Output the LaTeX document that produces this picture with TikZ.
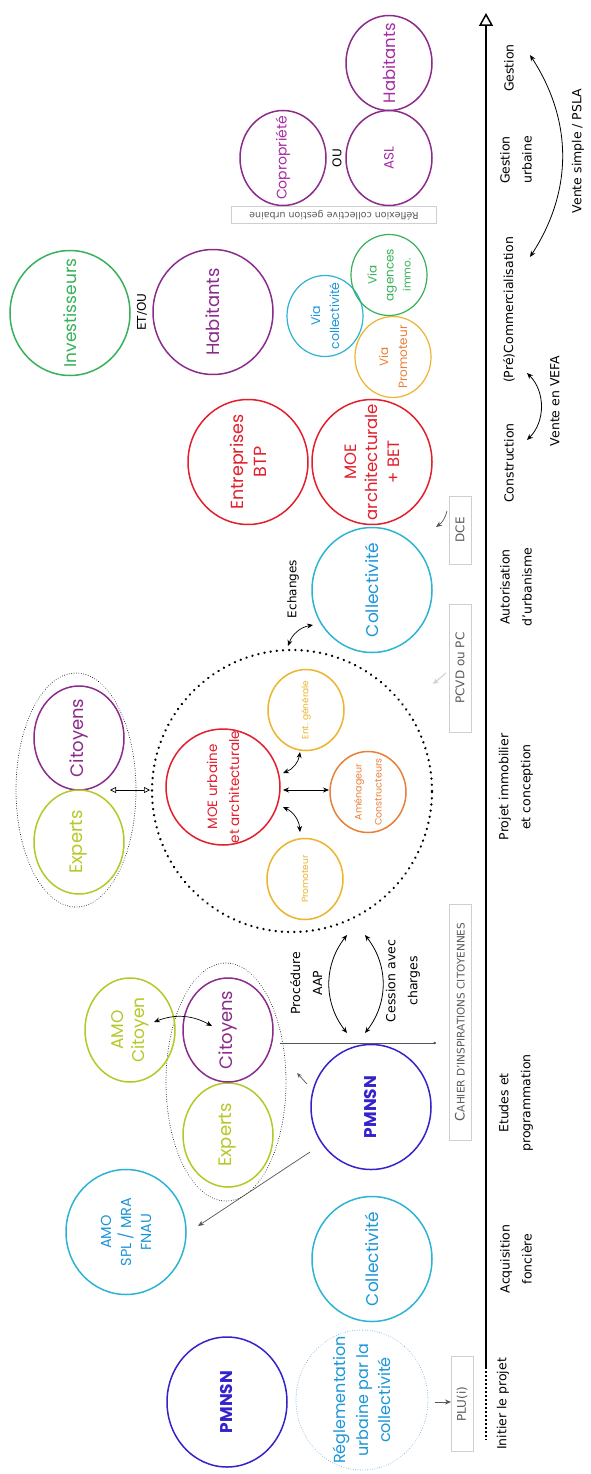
\documentclass[tikz,border=0pt]{standalone}
\usepackage{fontspec}
\setmainfont{DejaVu Sans}
\newfontfamily\circfont{Poppins}
\usetikzlibrary{shapes.geometric,arrows.meta}
\newcommand\setfs[2]{\fontsize{#1}{#2}\selectfont}
\definecolor{cIndigo}{HTML}{3422CC}
\definecolor{cCyan}{HTML}{2DB3D3}
\definecolor{cCyanT}{HTML}{1D96D8}
\definecolor{cLime}{HTML}{B6C827}
\definecolor{cPurple}{HTML}{8B2C8C}
\definecolor{cMagenta}{HTML}{A82AA6}
\definecolor{cRed}{HTML}{E11F2D}
\definecolor{cGold}{HTML}{EBB52E}
\definecolor{cOrange}{HTML}{E98038}
\definecolor{cGreen}{HTML}{37B159}
\definecolor{cLBlue}{HTML}{6AA8DA}
\definecolor{cBox}{HTML}{CFCFCF}
\definecolor{cBoxT}{HTML}{5A5A5A}
\definecolor{cArrow}{HTML}{555555}
\tikzset{
  ellbase/.style={ellipse, rotate=90, inner sep=0pt, line width=1.5pt},
  cL/.style={ellbase, minimum width=125pt, minimum height=120pt},
  cM/.style={ellbase, minimum width=104pt, minimum height=90pt},
  cS/.style={ellbase, minimum width=81pt, minimum height=76pt},
  cT/.style={ellbase, minimum width=95pt, minimum height=86pt},
  ct/.style={rotate=90, align=center, inner sep=0pt},
  lab/.style={rotate=90, align=center, inner sep=0pt, font=\setfs{12.5}{22}},
  gbox/.style={draw=cBox, line width=0.9pt, rotate=90, text=cBoxT, minimum height=22pt, inner sep=1pt, font=\setfs{12}{14}},
  thin/.style={draw=cArrow, line width=0.7pt},
  dotline/.style={line width=0.9pt, dash pattern=on 0.01pt off 2.4pt, line cap=round},
}
\begin{document}
\begin{tikzpicture}[x=1pt,y=-1pt, >={Stealth[length=6pt,width=5pt]}]
\useasboundingbox (0,0) rectangle (590,1474);
\fill[white] (0,0) rectangle (590,1474);

% ---------- axis
\coordinate (ax0) at (486,1367);
\coordinate (ax1) at (486,13);
\coordinate (axd) at (486,1440);
\draw[line width=2pt, -{Triangle[open,length=13pt,width=14pt,line width=1.5pt]}] (ax0) -- (ax1);
\draw[line width=2pt, dash pattern=on 1.5pt off 2.5pt] (ax0) -- (axd);

% ---------- timeline labels
\node[lab] (t1) at (503,1404) {Initier le projet};
\node[lab] (t2) at (516,1259) {Acquisition\\foncière};
\node[lab] (t3) at (516,1103) {Etudes et\\programmation};
\node[lab] (t4) at (516,787) {Projet immobilier\\et conception};
\node[lab] (t5) at (516,587) {Autorisation\\d'urbanisme};
\node[lab] (t6) at (509,463) {Construction};
\node[lab] (t7) at (509,310) {(Pré)Commercialisation};
\node[lab] (t8) at (516,160) {Gestion\\urbaine};
\node[lab] (t9) at (509,68) {Gestion};
\node[lab] (vefa) at (555,401) {Vente en VEFA};
\node[lab] (psla) at (578,151) {Vente simple / PSLA};
\coordinate (va) at (527,440);
\coordinate (vb) at (527,373);
\draw[<->, line width=0.8pt] (va) to[bend right=45] (vb);
\coordinate (pa) at (530,257);
\coordinate (pb) at (530,55);
\draw[<->, line width=0.8pt] (pa) to[bend right=33] (pb);

% ---------- bottom section
\node[ellbase, minimum width=130pt, minimum height=120pt, draw=cIndigo] (pm1) at (227,1402) {};
\node[ct, text=cIndigo, font=\circfont\setfs{17}{19}\bfseries] (pm1t) at (pm1) {PMNSN};
\node[ellbase, minimum width=140pt, minimum height=132pt, draw=cLBlue, dotline] (regl) at (362,1400) {};
\node[ct, text=cCyanT, font=\circfont\setfs{16}{22.5}] (reglt) at (regl) {Réglementation\\urbaine par la\\collectivité};
\node[gbox, minimum width=95pt] (plu) at (462,1404) {PLU(i)};
\coordinate (plua) at (435,1402);
\coordinate (plub) at (451,1402);
\draw[thin, ->] (plua) -- (plub);

\node[cL, draw=cCyan] (coll1) at (372,1259) {};
\node[ct, text=cCyanT, font=\circfont\setfs{17}{20}] (coll1t) at (coll1) {Collectivité};
\node[cL, draw=cCyan] (amo1) at (126,1232) {};
\node[ct, text=cCyanT, font=\circfont\setfs{14.5}{20}] (amo1t) at (amo1) {AMO\\SPL / MRA\\FNAU};

\node[cL, draw=cIndigo] (pm2) at (371,1107) {};
\node[ct, text=cIndigo, font=\circfont\setfs{17}{19}\bfseries] (pm2t) at (pm2) {PMNSN};
\node[cM, draw=cLime] (exp1) at (228,1135) {};
\node[ct, text=cLime, font=\circfont\setfs{18}{20}] (exp1t) at (exp1) {Experts};
\node[cM, draw=cPurple] (cit1) at (228,1030) {};
\node[ct, text=cPurple, font=\circfont\setfs{18}{20}] (cit1t) at (cit1) {Citoyens};
\node[ellipse, draw, dotline, minimum width=120pt, minimum height=238pt, inner sep=0pt] (dot1) at (226,1082) {};
\node[cM, draw=cLime] (amoc) at (130,1030) {};
\node[ct, text=cLime, font=\circfont\setfs{17}{21}] (amoct) at (amoc) {AMO\\Citoyen};

\coordinate (s1) at (310,1152);
\coordinate (s2) at (198,1226);
\draw[thin, ->] (s1) -- (s2);
\coordinate (s3) at (307,1084);
\coordinate (s4) at (297,1073);
\draw[thin, -{Stealth[open,length=5pt,width=4pt]}] (s3) -- (s4);
\coordinate (s5) at (154,1022);
\coordinate (s6) at (212,1026);
\draw[<->, line width=0.7pt] (s5) to[bend left=25] (s6);

\node[gbox, minimum width=236pt, font=\setfs{10.5}{12}] (cahier) at (460,1022) {{\setfs{13}{13}C}AHIER D'INSPIRATIONS CITOYENNES};
\coordinate (s7) at (280,1043);
\coordinate (s8) at (436,1043);
\draw[thin, -{Circle[length=2.5pt]}] (s7) -- (s8);

% Procédure / Cession arrows
\coordinate (pa1) at (347,1033);
\coordinate (pa2) at (347,935);
\draw[<->, line width=0.8pt] (pa1) to[bend left=38] (pa2);
\coordinate (pc1) at (365,1033);
\coordinate (pc2) at (365,935);
\draw[<->, line width=0.8pt] (pc1) to[bend right=38] (pc2);
\node[lab] (proc) at (306,983) {Procédure\\AAP};
\node[lab] (cess) at (403,981) {Cession avec\\charges};

% ---------- middle section
\node[ellipse, draw, line width=2.6pt, dash pattern=on 0.01pt off 6.2pt, line cap=round, minimum width=280pt, minimum height=282pt, inner sep=0pt] (bigc) at (292,791) {};
\node[ellbase, minimum width=116pt, minimum height=114pt, draw=cRed] (moe) at (223,787) {};
\node[ct, text=cRed, font=\circfont\setfs{13.5}{22}] (moet) at (moe) {MOE urbaine\\et architecturale};
\node[cS, draw=cGold] (prom) at (305,879) {};
\node[ct, text=cGold, font=\circfont\setfs{9}{11}] (promt) at (prom) {Promoteur};
\node[cS, draw=cOrange] (amen) at (368,792) {};
\node[ct, text=cOrange, font=\circfont\setfs{9.5}{20}] (ament) at (amen) {Aménageur\\Constructeurs};
\node[cS, draw=cGold] (entg) at (306,710) {};
\node[ct, text=cGold, font=\circfont\setfs{9}{11}] (entgt) at (entg) {Ent. générale};
\coordinate (m1) at (283,773);
\coordinate (m2) at (300,752);
\draw[<->, line width=0.7pt] (m1) to[bend right=30] (m2);
\coordinate (m3) at (283,790);
\coordinate (m4) at (329,790);
\draw[<->, line width=0.7pt] (m3) -- (m4);
\coordinate (m5) at (283,807);
\coordinate (m6) at (300,832);
\draw[<->, line width=0.7pt] (m5) to[bend left=30] (m6);

\node[cM, draw=cPurple] (cit2) at (79,738) {};
\node[ct, text=cPurple, font=\circfont\setfs{18}{20}] (cit2t) at (cit2) {Citoyens};
\node[cM, draw=cLime] (exp2) at (79,842) {};
\node[ct, text=cLime, font=\circfont\setfs{18}{20}] (exp2t) at (exp2) {Experts};
\node[ellipse, draw, dotline, minimum width=120pt, minimum height=234pt, inner sep=0pt] (dot2) at (76,790) {};
\coordinate (d1) at (110,790);
\coordinate (d2) at (150,790);
\draw[line width=0.7pt, {Triangle[open,length=6pt,width=6pt]}-{Triangle[open,length=6pt,width=6pt]}] (d1) -- (d2);

\node[gbox, minimum width=128pt] (pcvd) at (460,668) {PCVD ou PC};
\coordinate (pv1) at (446,673);
\coordinate (pv2) at (433,684);
\draw[draw=cBox, line width=1pt, ->] (pv1) -- (pv2);

\node[cL, draw=cCyan] (coll2) at (372,590) {};
\node[ct, text=cCyanT, font=\circfont\setfs{17}{20}] (coll2t) at (coll2) {Collectivité};
\coordinate (e1) at (288,646);
\coordinate (e2) at (313,625);
\draw[<->, line width=0.7pt] (e1) to[bend left=30] (e2);
\node[lab, font=\setfs{12}{14}] (ech) at (293,589) {Echanges};

\node[gbox, minimum width=68pt] (dce) at (460,530) {DCE};
\coordinate (dc1) at (447,511);
\coordinate (dc2) at (436,527);
\draw[thin, ->] (dc1) to[bend left=20] (dc2);

\node[cL, draw=cRed] (entr) at (248,462) {};
\node[ct, text=cRed, font=\circfont\setfs{17.5}{23}] (entrt) at (entr) {Entreprises\\BTP};
\node[cL, draw=cRed] (moea) at (372,462) {};
\node[ct, text=cRed, font=\circfont\setfs{16.5}{21.5}] (moeat) at (moea) {MOE\\architecturale\\+ BET};

% ---------- upper section
\node[cL, draw=cGreen] (inv) at (70,313) {};
\node[ct, text=cGreen, font=\circfont\setfs{17}{20}] (invt) at (inv) {Investisseurs};
\node[lab, font=\setfs{12}{14}] (etou) at (142,312) {ET/OU};
\node[cL, draw=cPurple] (hab1) at (213,312) {};
\node[ct, text=cPurple, font=\circfont\setfs{18}{20}] (hab1t) at (hab1) {Habitants};
\node[cS, draw=cCyan, line width=1.2pt] (viac) at (325,316) {};
\node[ct, text=cCyanT, font=\circfont\setfs{12.5}{19}] (viact) at (viac) {Via\\collectivité};
\node[cS, draw=cGreen, line width=1.2pt] (viaa) at (389,275) {};
\node[ct, text=cGreen, font=\circfont\setfs{12}{17}] (viaat) at (viaa) {Via\\agences\\{\setfs{10.5}{15}immo.}};
\node[cS, draw=cGold, line width=1.2pt] (viap) at (393,357) {};
\node[ct, text=cOrange, font=\circfont\setfs{12}{19}] (viapt) at (viap) {Via\\Promoteur};

\node[draw=cBox, line width=0.9pt, rotate=180, text=cBoxT, minimum width=205pt, minimum height=17pt, inner sep=1pt, font=\setfs{9.5}{11}] (refl) at (334,215) {Réflexion collective gestion urbaine};

\node[cT, draw=cPurple] (copr) at (283,158) {};
\node[ct, text=cMagenta, font=\circfont\setfs{14}{16}] (coprt) at (copr) {Copropriété};
\node[lab, font=\setfs{12}{14}] (ou) at (337,158) {OU};
\node[cT, draw=cPurple] (asl) at (389,158) {};
\node[ct, text=cMagenta, font=\circfont\setfs{13.5}{16}] (aslt) at (asl) {ASL};
\node[cT, draw=cPurple] (hab2) at (389,63) {};
\node[ct, text=cMagenta, font=\circfont\setfs{16.5}{18}] (hab2t) at (hab2) {Habitants};
\end{tikzpicture}
\end{document}
